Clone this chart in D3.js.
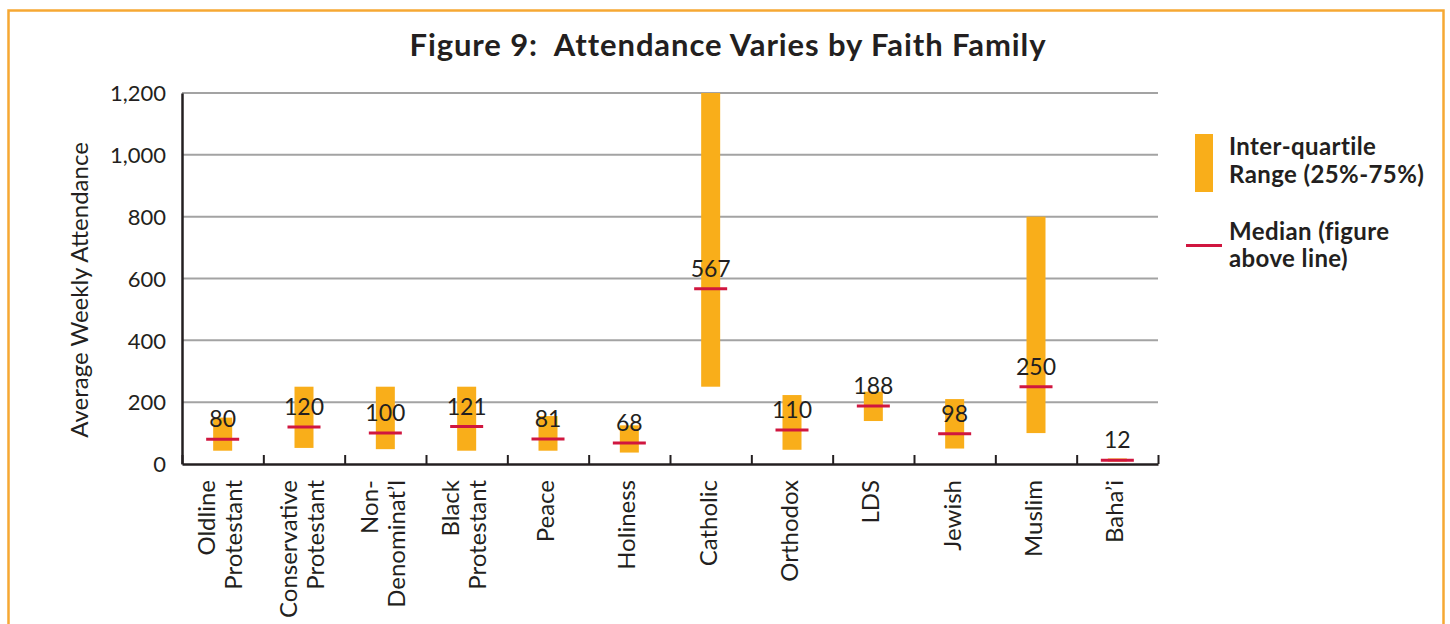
<!DOCTYPE html>
<html>
<head>
<meta charset="utf-8">
<script src="https://cdn.jsdelivr.net/npm/d3@7"></script>
<style>
  body { margin: 0; background: #fff; }
  svg { display: block; font-family: Lato, "Open Sans", sans-serif; }
</style>
</head>
<body>
<svg width="1450" height="624"></svg>
<script>
// data
var categories = [
  ["Oldline", "Protestant"],
  ["Conservative", "Protestant"],
  ["Non-", "Denominat\u2019l"],
  ["Black", "Protestant"],
  ["Peace"],
  ["Holiness"],
  ["Catholic"],
  ["Orthodox"],
  ["LDS"],
  ["Jewish"],
  ["Muslim"],
  ["Baha\u2019i"]
]
var q1 = [43, 52, 48, 43, 43, 37, 250, 46, 139, 50, 100, 8]
var q3 = [150, 250, 250, 250, 155, 125, 1200, 223, 234, 210, 800, 18]
var medians = [80, 120, 100, 121, 81, 68, 567, 110, 188, 98, 250, 12]
var yTicks = [0, 200, 400, 600, 800, 1000, 1200]

var orange = '#F9AE1A'
var red = '#D0163F'
var ink = '#231F20'

var svg = d3.select('svg')

// frame
svg.append('rect')
  .attr('x', 8.5).attr('y', 10.5)
  .attr('width', 1435).attr('height', 640)
  .attr('fill', 'none')
  .attr('stroke', '#F6A833')
  .attr('stroke-width', 2.5)

var idx = d3.range(categories.length)

var x = d3.scaleBand()
  .domain(idx)
  .range([182, 1158])

var xEdges = d3.scaleLinear()
  .domain([0, categories.length])
  .range([182, 1158])

var y = d3.scaleLinear()
  .domain([0, 1200])
  .range([464, 93])

// title
svg.append('text')
  .attr('x', 728).attr('y', 56)
  .attr('text-anchor', 'middle')
  .attr('font-size', 31)
  .attr('font-weight', 'bold')
  .attr('letter-spacing', 0.9)
  .attr('fill', ink)
  .attr('xml:space', 'preserve')
  .style('white-space', 'pre')
  .text('Figure 9:  Attendance Varies by Faith Family')

// gridlines
svg.append('g')
  .selectAll('line.grid')
  .data(yTicks.filter(function(d) { return d > 0 }))
  .enter()
  .append('line')
  .classed('grid', true)
  .attr('x1', 182).attr('x2', 1158)
  .attr('y1', function(d) { return y(d) })
  .attr('y2', function(d) { return y(d) })
  .attr('stroke', '#A3A3A3')
  .attr('stroke-width', 2)

// y axis
var yAxis = svg.append('g')
  .attr('transform', 'translate(182,0)')
  .call(d3.axisLeft(y).tickValues(yTicks).tickSize(0).tickPadding(16).tickFormat(d3.format(',')))
yAxis.select('.domain').attr('stroke', ink).attr('stroke-width', 2.5)
yAxis.selectAll('text')
  .attr('font-size', 22)
  .attr('font-family', 'Lato, sans-serif')
  .attr('fill', ink)
  .attr('dy', '0.35em')

svg.append('text')
  .attr('transform', 'translate(88,290) rotate(-90)')
  .attr('text-anchor', 'middle')
  .attr('font-size', 24)
  .attr('fill', ink)
  .text('Average Weekly Attendance')

// bars (inter-quartile range)
var barW = 19
svg.append('g')
  .selectAll('rect.iqr')
  .data(idx)
  .enter()
  .append('rect')
  .classed('iqr', true)
  .attr('x', function(i) { return x(i) + x.bandwidth() / 2 - barW / 2 })
  .attr('y', function(i) { return y(q3[i]) })
  .attr('width', barW)
  .attr('height', function(i) { return y(q1[i]) - y(q3[i]) })
  .attr('fill', orange)

// x axis
var xAxis = svg.append('g')
  .attr('transform', 'translate(0,464)')
  .call(d3.axisBottom(xEdges).ticks(categories.length).tickSize(-9).tickSizeOuter(0).tickFormat(''))
xAxis.select('.domain').attr('stroke', ink).attr('stroke-width', 2.5)
xAxis.selectAll('.tick line').attr('stroke', ink).attr('stroke-width', 2)

// medians
var medW = 33
svg.append('g')
  .selectAll('line.median')
  .data(idx)
  .enter()
  .append('line')
  .classed('median', true)
  .attr('x1', function(i) { return x(i) + x.bandwidth() / 2 - medW / 2 })
  .attr('x2', function(i) { return x(i) + x.bandwidth() / 2 + medW / 2 })
  .attr('y1', function(i) { return y(medians[i]) })
  .attr('y2', function(i) { return y(medians[i]) })
  .attr('stroke', red)
  .attr('stroke-width', 3)

// median labels
svg.append('g')
  .selectAll('text.val')
  .data(idx)
  .enter()
  .append('text')
  .classed('val', true)
  .attr('x', function(i) { return x(i) + x.bandwidth() / 2 })
  .attr('y', function(i) { return y(medians[i]) - 12 })
  .attr('text-anchor', 'middle')
  .attr('font-size', 23)
  .attr('fill', ink)
  .text(function(i) { return medians[i] })

// category labels, rotated
var lab = svg.append('g')
idx.forEach(function(i) {
  var lines = categories[i]
  var n = lines.length
  lines.forEach(function(t, k) {
    var cx = x(i) + x.bandwidth() / 2 + 6 + (k - (n - 1) / 2) * 27
    lab.append('text')
      .attr('transform', 'translate(' + cx + ',480) rotate(-90)')
      .attr('text-anchor', 'end')
      .attr('font-size', 24)
      .attr('fill', ink)
      .text(t)
  })
})

// legend
var leg = svg.append('g')
leg.append('rect')
  .attr('x', 1195).attr('y', 134)
  .attr('width', 18).attr('height', 58)
  .attr('fill', orange)
leg.append('line')
  .attr('x1', 1186).attr('x2', 1222)
  .attr('y1', 245.5).attr('y2', 245.5)
  .attr('stroke', red)
  .attr('stroke-width', 3)

var legText = [
  [['Inter-quartile', 155], ['Range (25%-75%)', 183]],
  [['Median (figure', 240], ['above line)', 267]]
]
legText.forEach(function(item) {
  item.forEach(function(l) {
    leg.append('text')
      .attr('x', 1229).attr('y', l[1])
      .attr('font-size', 24)
      .attr('font-weight', 'bold')
      .attr('letter-spacing', 0.4)
      .attr('fill', ink)
      .text(l[0])
  })
})
</script>
</body>
</html>
